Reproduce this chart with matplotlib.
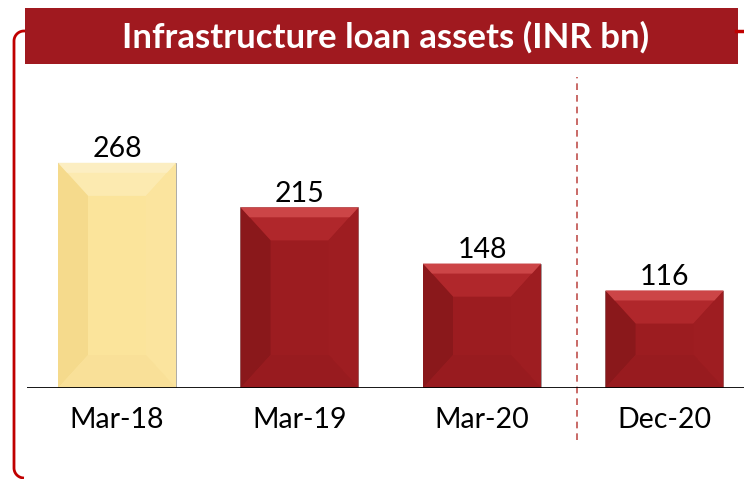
import matplotlib.pyplot as plt
from matplotlib.patches import Polygon, Rectangle
import numpy as np

categories = ['Mar-18', 'Mar-19', 'Mar-20', 'Dec-20']
values = [268, 215, 148, 116]
title = 'Infrastructure loan assets (INR bn)'

W, H = 744, 479
fig = plt.figure(figsize=(W / 100, H / 100), dpi=100)

# decoration layer in pixel coordinates
deco = fig.add_axes([0, 0, 1, 1])
deco.set_xlim(0, W)
deco.set_ylim(H, 0)
deco.axis('off')

red_line = '#C00000'
# frame: left side with rounded corners
t = np.linspace(0, np.pi / 2, 20)
r = 10
path_x = [25, 14 + r]
path_y = [31, 31]
path_x += list(14 + r - r * np.sin(t))
path_y += list(31 + r - r * np.cos(t))
path_x += [14, 14]
path_y += [31 + r, 468]
path_x += list(14 + r - r * np.cos(t))
path_y += list(468 + r * np.sin(t))
deco.plot(path_x, path_y, color=red_line, lw=2, solid_capstyle='butt')
deco.plot([736, 744], [31, 31], color=red_line, lw=2.5)

# title banner
deco.add_patch(Rectangle((25, 8), 713, 56, facecolor='#A0191F', edgecolor='none'))
deco.text(386, 37, title, color='white', fontsize=25, fontweight='bold',
          family='Lato', ha='center', va='center')

# bar axes: x from 27px to 744px, baseline at 388px, top at 70px
spacing = 182.5
x0 = 117
px_per_unit = 0.84
left = (27 - x0) / spacing
right = (W - x0) / spacing
ymax = (388 - 70) / px_per_unit
ax = fig.add_axes([27 / W, (H - 388) / H, (W - 27) / W, (388 - 70) / H])
ax.set_xlim(left, right)
ax.set_ylim(0, ymax)
ax.axis('off')

x = np.arange(len(categories))
width = 118 / spacing
colors = ['#FBE49B', '#9C1C20', '#9C1C20', '#9C1C20']
bars = ax.bar(x, values, width=width, color=colors, edgecolor='#a0a0a0',
              linewidth=0.6, zorder=2)

# bevel faces
bx = 30 / spacing
by = 33 / px_per_unit
shades = {
    '#FBE49B': dict(top='#FCEAB0', left='#F5DA8C', right='#FBE49E', bottom='#F9E098',
                    edge='#FDF2CF'),
    '#9C1C20': dict(top='#B0272B', left='#8A181B', right='#9E1D21', bottom='#981B1F',
                    edge='#E05A5A'),
}
for b, c in zip(bars, colors):
    s = shades[c]
    x1, x2 = b.get_x(), b.get_x() + b.get_width()
    y1, y2 = 0, b.get_height()
    ix1, ix2 = x1 + bx, x2 - bx
    iy1, iy2 = y1 + by, y2 - by
    faces = [
        ([(x1, y2), (x2, y2), (ix2, iy2), (ix1, iy2)], s['top']),
        ([(x1, y1), (x1, y2), (ix1, iy2), (ix1, iy1)], s['left']),
        ([(x2, y1), (x2, y2), (ix2, iy2), (ix2, iy1)], s['right']),
        ([(x1, y1), (x2, y1), (ix2, iy1), (ix1, iy1)], s['bottom']),
    ]
    for pts, fc in faces:
        ax.add_patch(Polygon(pts, closed=True, facecolor=fc, edgecolor='none', zorder=3))
    # lighter band along the top edge
    ex = bx * 0.3
    ey = by * 0.3
    ax.add_patch(Polygon([(x1, y2), (x2, y2), (x2 - ex, y2 - ey), (x1 + ex, y2 - ey)],
                         closed=True, facecolor=s['edge'], edgecolor='none',
                         alpha=0.6, zorder=3))

for xi, v in zip(x, values):
    ax.text(xi, v + 1, str(v), ha='center', va='bottom', fontsize=20.5,
            family='Lato', color='black', zorder=5)

for xi, lab in zip(x, categories):
    ax.text(xi, -38, lab, ha='center', va='center', fontsize=20.5,
            family='Lato', color='black', clip_on=False)

ax.axhline(0, color='black', lw=2, zorder=5)

ax.axvline(2.52, ymin=(388 - 440) / 318, ymax=(388 - 77) / 318, color='#C0504D',
           lw=1.2, ls=(0, (4, 3)), clip_on=False, zorder=1)

fig.savefig('out.png', dpi=100)
